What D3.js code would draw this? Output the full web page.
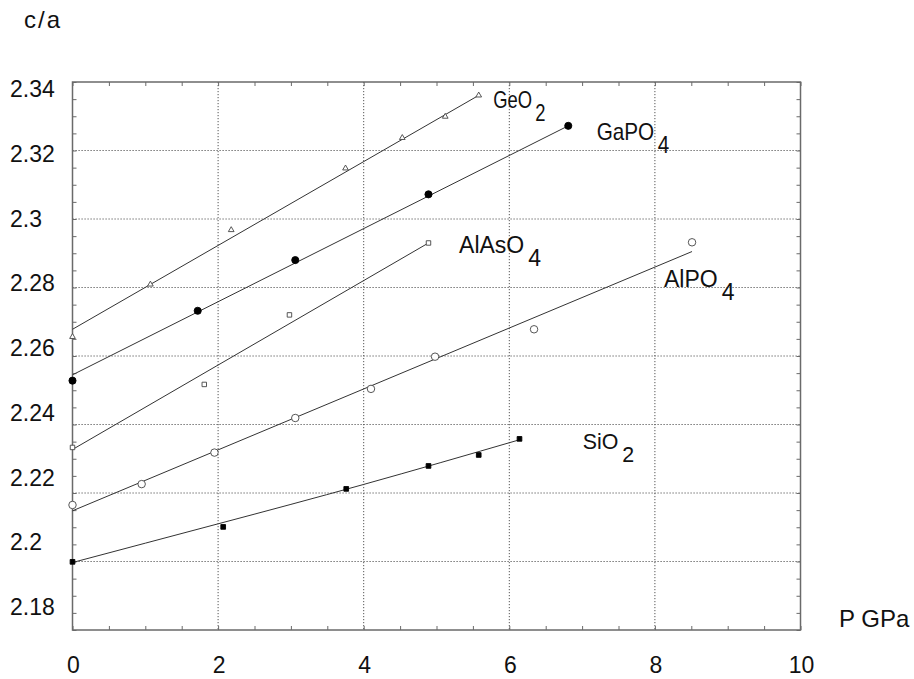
<!DOCTYPE html>
<html>
<head>
<meta charset="utf-8">
<script src="https://cdn.jsdelivr.net/npm/d3@7"></script>
<style>
  html, body { margin: 0; padding: 0; background: #fff; }
  svg { display: block; font-family: "Liberation Sans", Arial, sans-serif; }
</style>
</head>
<body>
<svg id="chart" width="914" height="679"></svg>
<script>
// Axis ticks and labels
const xTicks = [0, 2, 4, 6, 8, 10];
const xTickLabels = ["0", "2", "4", "6", "8", "10"];
const yTicks = [2.18, 2.20, 2.22, 2.24, 2.26, 2.28, 2.30, 2.32, 2.34];
const yTickLabels = ["2.18", "2.2", "2.22", "2.24", "2.26", "2.28", "2.3", "2.32", "2.34"];

// Measured c/a ratios against pressure (GPa)
const geo2P   = [0, 1.07, 2.18, 3.75, 4.53, 5.12, 5.58];
const geo2CA  = [2.2656, 2.2809, 2.2968, 2.3148, 2.3237, 2.3299, 2.3361];
const gapo4P  = [0, 1.72, 3.06, 4.89, 6.81];
const gapo4CA = [2.2528, 2.2732, 2.2880, 2.3072, 2.3272];
const alaso4P  = [0, 1.81, 2.98, 4.89];
const alaso4CA = [2.2333, 2.2517, 2.2720, 2.2930];
const alpo4P  = [0, 0.95, 1.95, 3.06, 4.10, 4.98, 6.34, 8.51];
const alpo4CA = [2.2165, 2.2226, 2.2318, 2.2419, 2.2504, 2.2598, 2.2678, 2.2932];
const sio2P  = [0, 2.07, 3.76, 4.89, 5.58, 6.14];
const sio2CA = [2.1999, 2.2101, 2.2212, 2.2279, 2.2311, 2.2358];

// Fitted curves, as [P, c/a] nodes
const geo2Fit   = [[0, 2.2678], [5.58, 2.3361]];
const gapo4Fit  = [[0, 2.2545], [6.81, 2.3272]];
const alaso4Fit = [[0, 2.2327], [4.89, 2.2930]];
const alpo4Fit  = [[0, 2.2148], [8.51, 2.2905]];
const sio2Fit   = [[0, 2.1997], [2, 2.2110], [4, 2.2225], [6.15, 2.2356]];

const seriesNames = ["GeO", "GaPO", "AlAsO", "AlPO", "SiO"];
const seriesSubs  = ["2", "4", "4", "4", "2"];

const series = [
  { name: seriesNames[0], sub: seriesSubs[0], P: geo2P,   v: geo2CA,   fit: geo2Fit,   marker: "triangle", label: [5.78, 2.3324], squeeze: 0.8 },
  { name: seriesNames[1], sub: seriesSubs[1], P: gapo4P,  v: gapo4CA,  fit: gapo4Fit,  marker: "dot",      label: [7.20, 2.3231], squeeze: 0.9 },
  { name: seriesNames[2], sub: seriesSubs[2], P: alaso4P, v: alaso4CA, fit: alaso4Fit, marker: "square",   label: [5.31, 2.2901], squeeze: 1 },
  { name: seriesNames[3], sub: seriesSubs[3], P: alpo4P,  v: alpo4CA,  fit: alpo4Fit,  marker: "circle",   label: [8.125, 2.2801], squeeze: 1 },
  { name: seriesNames[4], sub: seriesSubs[4], P: sio2P,   v: sio2CA,   fit: sio2Fit,   marker: "block",    label: [7.01, 2.2328], squeeze: 0.93 }
];

const svg = d3.select("#chart");
const plotLeft = 72.5, plotRight = 800.5, plotTop = 82, plotBottom = 630;

const x = d3.scaleLinear().domain([0, 10]).range([plotLeft, plotRight]);
const y = d3.scaleLinear().domain([2.18, 2.34]).range([plotBottom, plotTop]);
// The c/a tick labels sit on a slightly tighter ladder than the grid
const yLabel = d3.scaleLinear().domain([2.18, 2.34]).range([614, 96]);

const frameColor = "#6a6a6a";

// Dotted grid at the major ticks
const grid = svg.append("g");
grid.selectAll("line.gx").data(xTicks.filter(t => t > 0 && t < 10)).join("line")
  .attr("x1", d => x(d)).attr("x2", d => x(d))
  .attr("y1", plotTop).attr("y2", plotBottom)
  .attr("stroke", "#555").attr("stroke-width", 1).attr("stroke-dasharray", "1.2,1.8");
grid.selectAll("line.gy").data(yTicks.filter(t => t > 2.181 && t < 2.339)).join("line")
  .attr("x1", plotLeft).attr("x2", plotRight)
  .attr("y1", d => y(d)).attr("y2", d => y(d))
  .attr("stroke", "#555").attr("stroke-width", 1).attr("stroke-dasharray", "1.2,1.8");

// Inward ticks on all four sides (every 0.5 GPa and every 0.005 in c/a)
const xMinor = d3.range(0, 10.001, 0.5);
const yMinor = d3.range(2.18, 2.3401, 0.005);
const tickLen = 4;

const axB = d3.axisBottom(x).tickValues(xMinor).tickSize(-tickLen).tickFormat("");
const axT = d3.axisTop(x).tickValues(xMinor).tickSize(-tickLen).tickFormat("");
const axL = d3.axisLeft(y).tickValues(yMinor).tickSize(-tickLen).tickFormat("");
const axR = d3.axisRight(y).tickValues(yMinor).tickSize(-tickLen).tickFormat("");

function styleAxis(g) {
  g.select(".domain").remove();
  g.selectAll(".tick line").attr("stroke", frameColor).attr("stroke-width", 1);
}
svg.append("g").attr("transform", `translate(0,${plotBottom})`).call(axB).call(styleAxis);
svg.append("g").attr("transform", `translate(0,${plotTop})`).call(axT).call(styleAxis);
svg.append("g").attr("transform", `translate(${plotLeft},0)`).call(axL).call(styleAxis);
svg.append("g").attr("transform", `translate(${plotRight},0)`).call(axR).call(styleAxis);

// Plot frame
svg.append("rect")
  .attr("x", plotLeft).attr("y", plotTop)
  .attr("width", plotRight - plotLeft).attr("height", plotBottom - plotTop)
  .attr("fill", "none").attr("stroke", frameColor).attr("stroke-width", 1.5);

// Tick labels
svg.append("g").selectAll("text").data(xTicks).join("text")
  .attr("x", d => x(d) + 1)
  .attr("y", 673)
  .attr("text-anchor", "middle")
  .attr("font-size", 23)
  .attr("fill", "#111")
  .text((d, i) => xTickLabels[i]);

svg.append("g").selectAll("text").data(yTicks).join("text")
  .attr("x", 10)
  .attr("y", d => yLabel(d) + 1)
  .attr("text-anchor", "start")
  .attr("font-size", 23)
  .attr("fill", "#111")
  .text((d, i) => yTickLabels[i]);

// Axis titles
svg.append("text").attr("x", 24).attr("y", 28)
  .attr("font-size", 24).attr("letter-spacing", 2).attr("fill", "#111").text("c/a");
svg.append("text").attr("x", 839).attr("y", 627)
  .attr("font-size", 24).attr("fill", "#111").text("P GPa");

// Fitted curves
const line = d3.line().x(d => x(d[0])).y(d => y(d[1]));
series.forEach(s => {
  svg.append("path")
    .datum(s.fit)
    .attr("d", line.curve(s.fit.length > 2 ? d3.curveNatural : d3.curveLinear))
    .attr("fill", "none")
    .attr("stroke", "#333")
    .attr("stroke-width", 1);
});

// Data markers
const markerPaths = {
  triangle: d3.symbol().type(d3.symbolTriangle).size(14),
  square:   d3.symbol().type(d3.symbolSquare).size(20),
  block:    d3.symbol().type(d3.symbolSquare).size(22),
  circle:   d3.symbol().type(d3.symbolCircle).size(44),
  dot:      d3.symbol().type(d3.symbolCircle).size(40)
};
const filled = { dot: true, block: true };

series.forEach(s => {
  const pts = s.P.map((p, i) => [p, s.v[i]]);
  svg.append("g").selectAll("path").data(pts).join("path")
    .attr("transform", d => `translate(${x(d[0])},${y(d[1])})`)
    .attr("d", markerPaths[s.marker]())
    .attr("fill", filled[s.marker] ? "#000" : "#fff")
    .attr("stroke", filled[s.marker] ? "#000" : "#444")
    .attr("stroke-width", 0.9);
});

// Series labels with subscripts
series.forEach(s => {
  const g = svg.append("g")
    .attr("transform", `translate(${x(s.label[0])},${y(s.label[1])}) scale(${s.squeeze},1)`);
  const t = g.append("text")
    .attr("font-size", 23)
    .attr("fill", "#111");
  t.append("tspan").text(s.name);
  t.append("tspan").attr("dx", 4).attr("dy", 13).text(s.sub);
});
</script>
</body>
</html>
